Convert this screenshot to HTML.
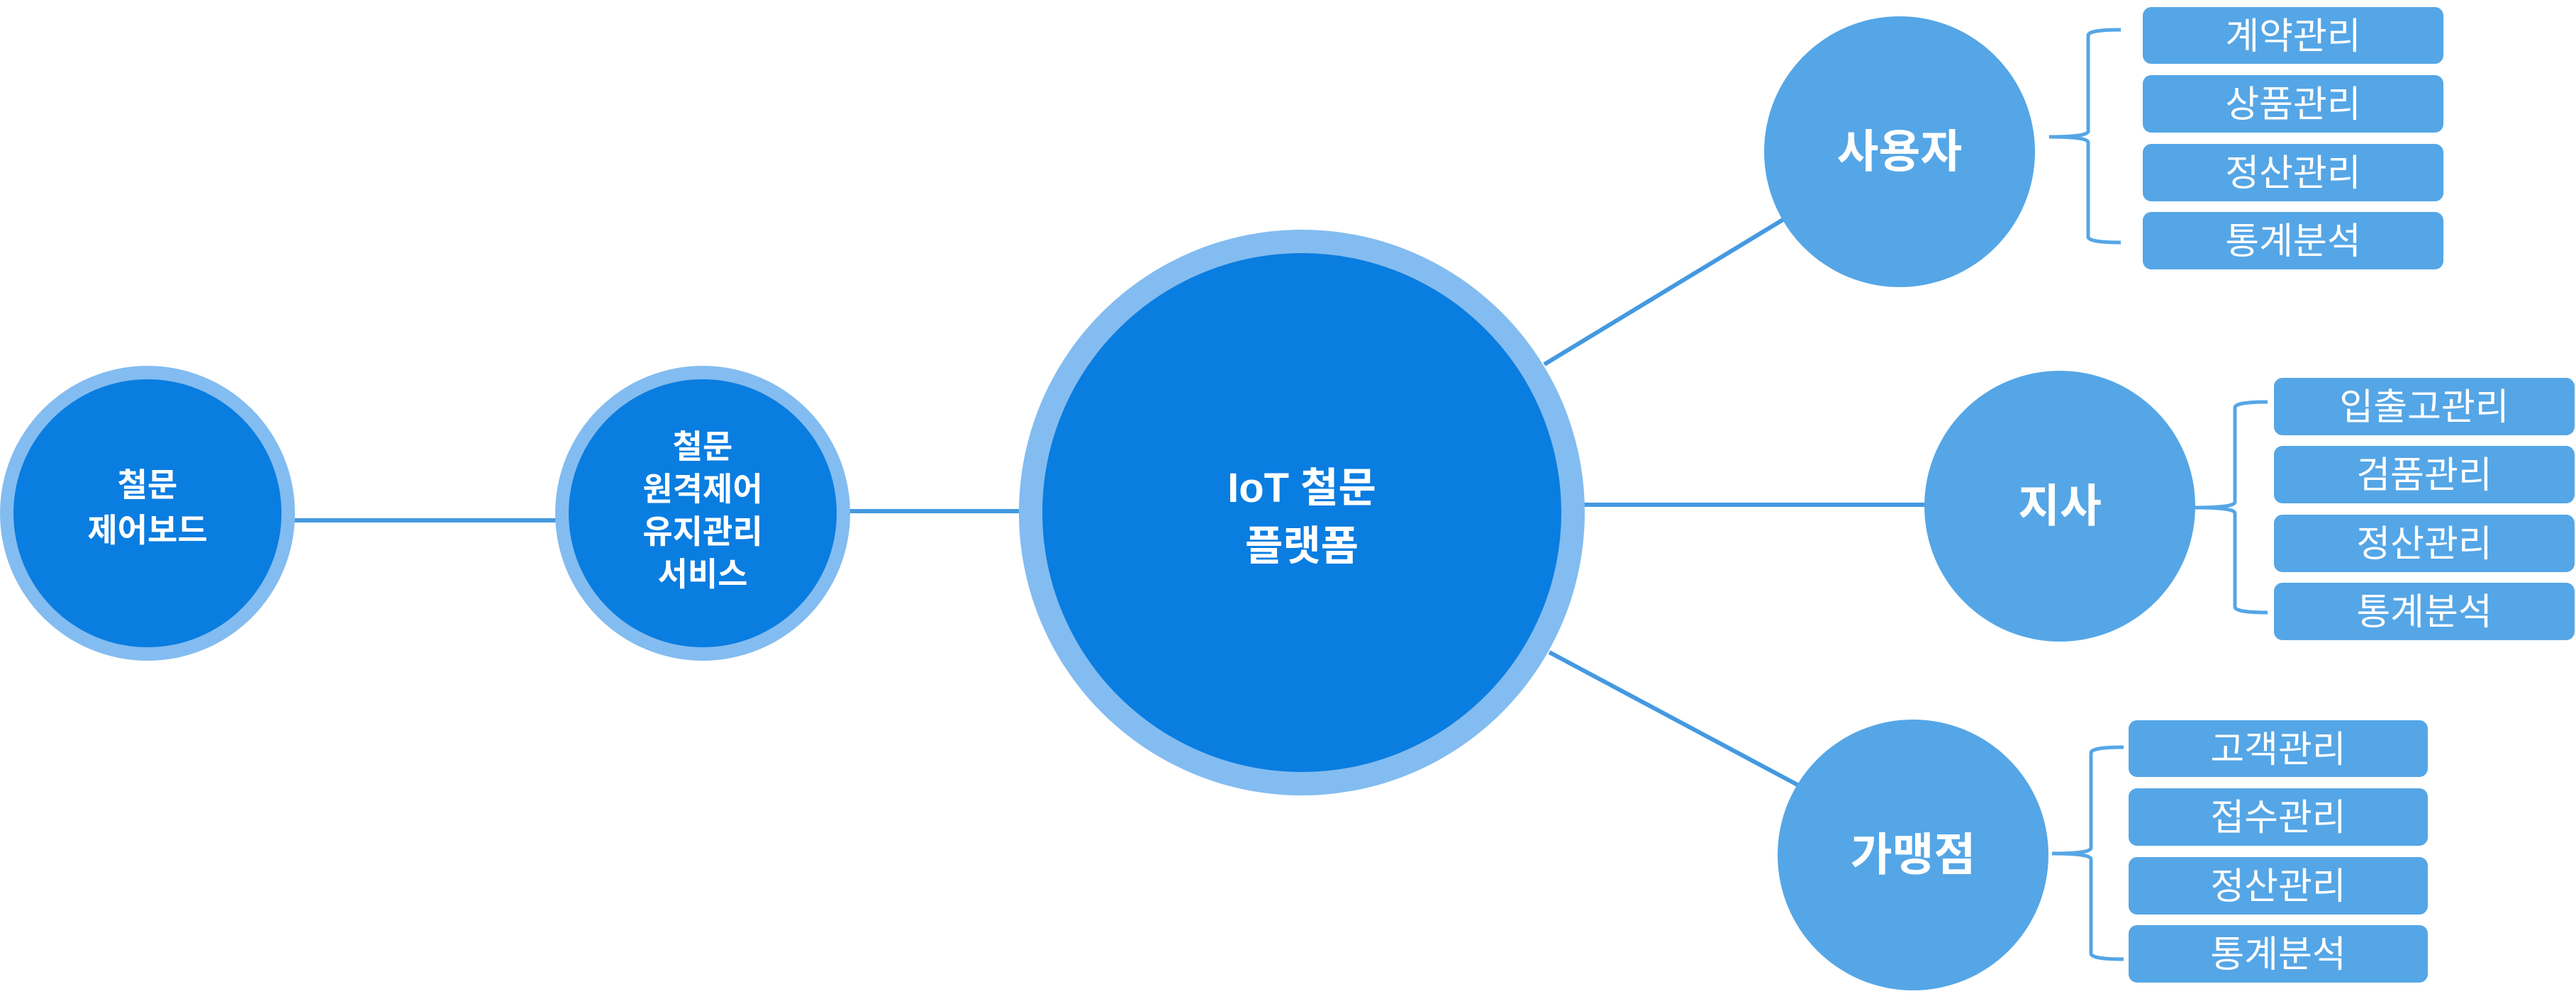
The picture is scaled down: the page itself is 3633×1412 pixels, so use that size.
<!DOCTYPE html>
<html><head><meta charset="utf-8"><style>
html,body{margin:0;padding:0;background:#fff;}
svg{display:block;}
text{font-family:"Liberation Sans","Noto Sans CJK KR",sans-serif;fill:#fff;text-anchor:middle;}
.b{font-weight:bold;}
</style></head><body>
<svg width="3633" height="1412" viewBox="0 0 3633 1412" xmlns="http://www.w3.org/2000/svg">
<g stroke="#4499e0" stroke-width="6" fill="none">
<line x1="400" y1="734" x2="790" y2="734"/>
<line x1="1190" y1="721" x2="1440" y2="721"/>
<line x1="2178" y1="514" x2="2516" y2="309"/>
<line x1="2230" y1="712" x2="2714" y2="712"/>
<line x1="2185" y1="920" x2="2535" y2="1107"/>
</g>
<circle cx="208" cy="724" r="208" fill="#83bcf0"/>
<circle cx="208" cy="724" r="189" fill="#0a7de0"/>
<circle cx="991" cy="724" r="208" fill="#83bcf0"/>
<circle cx="991" cy="724" r="189" fill="#0a7de0"/>
<circle cx="1836" cy="723" r="399" fill="#83bcf0"/>
<circle cx="1836" cy="723" r="366" fill="#0a7de0"/>
<circle cx="2679" cy="214" r="191" fill="#55a6e6"/>
<circle cx="2905" cy="714" r="191" fill="#55a6e6"/>
<circle cx="2698" cy="1206" r="191" fill="#55a6e6"/>

<text class="b" x="208" y="700" font-size="46">철문</text>
<text class="b" x="208" y="764" font-size="46">제어보드</text>
<text class="b" x="991" y="646" font-size="46">철문</text>
<text class="b" x="991" y="706" font-size="46">원격제어</text>
<text class="b" x="991" y="766" font-size="46">유지관리</text>
<text class="b" x="991" y="826" font-size="46">서비스</text>
<text class="b" x="1836" y="708" font-size="58">IoT 철문</text>
<text class="b" x="1836" y="790" font-size="58">플랫폼</text>
<text class="b" x="2679" y="236" font-size="64">사용자</text>
<text class="b" x="2905" y="736" font-size="64">지사</text>
<text class="b" x="2698" y="1228" font-size="64">가맹점</text>

<g stroke="#55a6e6" stroke-width="5" fill="none">
<path d="M2991 42 Q2945 42 2945 50 L2945 185 Q2945 193 2890 193 Q2945 193 2945 201 L2945 334 Q2945 342 2991 342"/>
<path d="M3198 567 Q3152 567 3152 575 L3152 708 Q3152 716 3096 716 Q3152 716 3152 724 L3152 856 Q3152 864 3198 864"/>
<path d="M2995 1054 Q2949 1054 2949 1062 L2949 1196 Q2949 1204 2894 1204 Q2949 1204 2949 1212 L2949 1345 Q2949 1353 2995 1353"/>
</g>
<g fill="#55a6e6">
<rect x="3022" y="10" width="424" height="80" rx="12"/>
<rect x="3022" y="106" width="424" height="81" rx="12"/>
<rect x="3022" y="203" width="424" height="81" rx="12"/>
<rect x="3022" y="299" width="424" height="81" rx="12"/>
<rect x="3207" y="533" width="424" height="81" rx="12"/>
<rect x="3207" y="629" width="424" height="81" rx="12"/>
<rect x="3207" y="726" width="424" height="81" rx="12"/>
<rect x="3207" y="822" width="424" height="81" rx="12"/>
<rect x="3002" y="1016" width="422" height="80" rx="12"/>
<rect x="3002" y="1112" width="422" height="81" rx="12"/>
<rect x="3002" y="1209" width="422" height="81" rx="12"/>
<rect x="3002" y="1305" width="422" height="81" rx="12"/>
</g>
<g font-size="52">
<text x="3234" y="69">계약관리</text>
<text x="3234" y="165">상품관리</text>
<text x="3234" y="262">정산관리</text>
<text x="3234" y="358">통계분석</text>
<text x="3419" y="592">입출고관리</text>
<text x="3419" y="688">검품관리</text>
<text x="3419" y="785">정산관리</text>
<text x="3419" y="881">통계분석</text>
<text x="3213" y="1075">고객관리</text>
<text x="3213" y="1171">접수관리</text>
<text x="3213" y="1268">정산관리</text>
<text x="3213" y="1364">통계분석</text>
</g>
</svg>
</body></html>
